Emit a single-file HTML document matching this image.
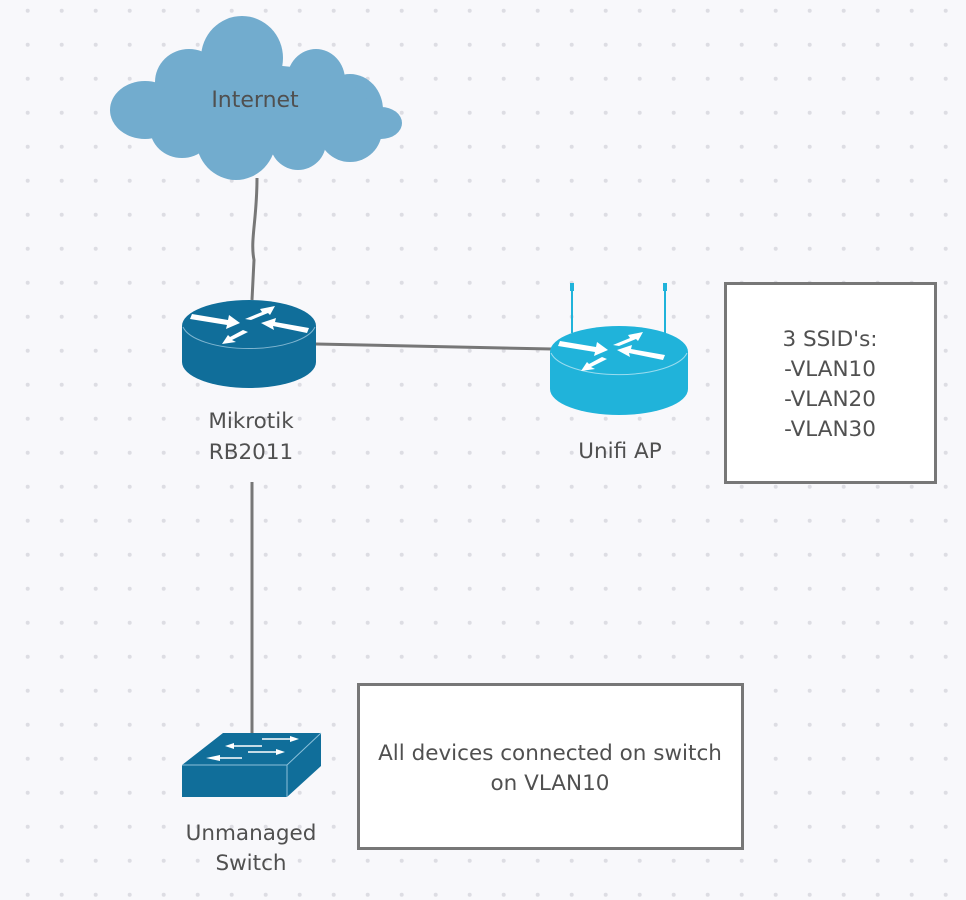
<!DOCTYPE html>
<html><head><meta charset="utf-8"><style>
html,body{margin:0;padding:0;background:#f8f8fb;}
svg{display:block;}
text{font-family:"DejaVu Sans","Liberation Sans",sans-serif;fill:#505050;}
</style></head><body>
<svg width="966" height="900" viewBox="0 0 966 900" xmlns="http://www.w3.org/2000/svg">
<defs>
<pattern id="dots" x="10" y="-6" width="34" height="34" patternUnits="userSpaceOnUse">
<circle cx="17.7" cy="16.7" r="2" fill="#dddde3"/>
</pattern>
</defs>
<rect width="966" height="900" fill="#f8f8fb"/>
<rect width="966" height="900" fill="url(#dots)"/>

<path d="M257 178 C257 220 250 240 254 260 L252 300" stroke="#777" stroke-width="3" fill="none"/>
<line x1="316" y1="344" x2="552" y2="349" stroke="#777" stroke-width="3"/>
<line x1="252" y1="482" x2="252" y2="735" stroke="#777" stroke-width="3"/>

<g fill="#72acce">
<ellipse cx="242" cy="58" rx="41" ry="42"/>
<ellipse cx="145" cy="110" rx="35" ry="29"/>
<ellipse cx="189" cy="82" rx="34" ry="33"/>
<ellipse cx="316" cy="80" rx="29" ry="31"/>
<ellipse cx="350" cy="110" rx="33" ry="36"/>
<ellipse cx="381" cy="123" rx="21" ry="16"/>
<ellipse cx="236" cy="138" rx="40" ry="42"/>
<ellipse cx="182" cy="128" rx="32" ry="30"/>
<ellipse cx="298" cy="142" rx="28" ry="28"/>
<ellipse cx="350" cy="130" rx="32" ry="32"/>
<ellipse cx="260" cy="110" rx="110" ry="45"/>
</g>
<text x="255" y="107" font-size="22" text-anchor="middle">Internet</text>

<g>
<path d="M182 326 L182 362 A67 26 0 0 0 316 362 L316 326 Z" fill="#106e9a"/>
<ellipse cx="249" cy="326" rx="67" ry="26" fill="#106e9a"/>
<path d="M183 327 A67 26 0 0 0 315 327" stroke="#7fb5d0" stroke-width="1" fill="none"/>
<g fill="#fff">
<polygon points="192,314 228,320 229,315 240,323 226,329 227,325 190,319"/>
<polygon points="245,319 262,312 260,309 275,306 270,315 268,313 251,320"/>
<polygon points="307,333 273,326 274,330 261,323 276,318 275,322 309,328"/>
<polygon points="248,332 232,340 236,342 222,344 228,335 230,337 243,330"/>
</g>
</g>
<text x="251" y="428" font-size="21.5" text-anchor="middle">Mikrotik</text>
<text x="251" y="459" font-size="21.5" text-anchor="middle">RB2011</text>

<g>
<line x1="572" y1="290" x2="572" y2="333" stroke="#20b3da" stroke-width="2"/>
<line x1="665" y1="290" x2="665" y2="333" stroke="#20b3da" stroke-width="2"/>
<rect x="570" y="283" width="4" height="8" fill="#20b3da"/>
<rect x="663" y="283" width="4" height="8" fill="#20b3da"/>
<path d="M550 352 L550 389 A69 26 0 0 0 688 389 L688 352 Z" fill="#20b3da"/>
<ellipse cx="619" cy="352" rx="69" ry="26" fill="#20b3da"/>
<path d="M551 353 A69 26 0 0 0 687 353" stroke="#9adcef" stroke-width="1" fill="none"/>
<g fill="#fff">
<polygon points="560,341 596,347 597,342 608,350 594,356 595,352 558,346"/>
<polygon points="613,345 630,338 628,335 643,332 638,341 636,339 619,346"/>
<polygon points="663,360 629,353 630,357 617,350 632,345 631,349 665,355"/>
<polygon points="607,359 591,367 595,369 581,371 587,362 589,364 602,357"/>
</g>
</g>
<text x="620" y="458" font-size="21.5" text-anchor="middle">Unifi AP</text>

<rect x="725.5" y="283.5" width="210" height="199" fill="#fff" stroke="#777" stroke-width="3"/>
<text x="830" y="346" font-size="21.5" text-anchor="middle">3 SSID's:</text>
<text x="830" y="376" font-size="21.5" text-anchor="middle">-VLAN10</text>
<text x="830" y="406" font-size="21.5" text-anchor="middle">-VLAN20</text>
<text x="830" y="436" font-size="21.5" text-anchor="middle">-VLAN30</text>

<g>
<polygon points="223,733 321,733 287,765 182,765" fill="#106e9a"/>
<rect x="182" y="765" width="105" height="32" fill="#106e9a"/>
<polygon points="287,765 321,733 321,766 287,797" fill="#106e9a"/>
<polyline points="182,765 287,765 321,733" stroke="#8cc0da" stroke-width="1" fill="none"/>
<line x1="287" y1="765" x2="287" y2="797" stroke="#8cc0da" stroke-width="1"/>
<g fill="#fff" stroke="#fff" stroke-width="1.5">
<line x1="262" y1="739" x2="292" y2="739"/><polygon points="290,736 299,739 290,742" stroke="none"/>
<line x1="232" y1="746" x2="262" y2="746"/><polygon points="234,743 225,746 234,749" stroke="none"/>
<line x1="248" y1="752" x2="278" y2="752"/><polygon points="276,749 285,752 276,755" stroke="none"/>
<line x1="218" y1="758" x2="242" y2="758"/><polygon points="220,755 206,758 220,761" stroke="none"/>
</g>
</g>
<text x="251" y="840" font-size="21.5" text-anchor="middle">Unmanaged</text>
<text x="251" y="870" font-size="21.5" text-anchor="middle">Switch</text>

<rect x="358.5" y="684.5" width="384" height="164" fill="#fff" stroke="#777" stroke-width="3"/>
<text x="550" y="760" font-size="21.5" text-anchor="middle">All devices connected on switch</text>
<text x="550" y="790" font-size="21.5" text-anchor="middle">on VLAN10</text>
</svg>
</body></html>
